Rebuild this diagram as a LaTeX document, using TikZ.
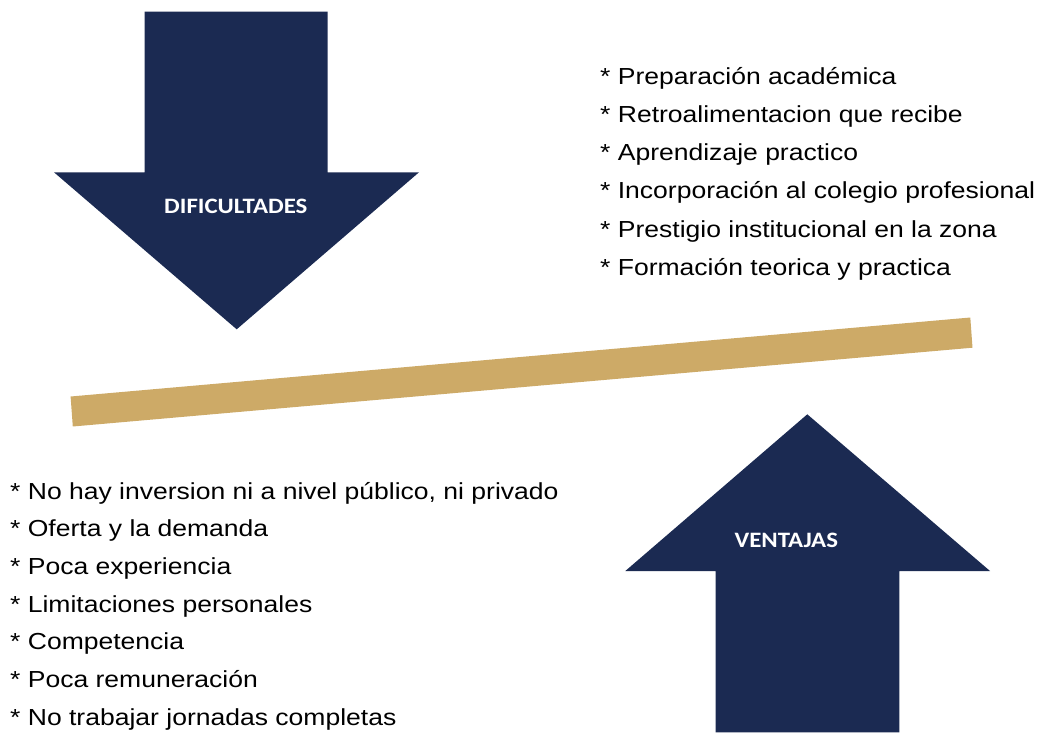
\documentclass[tikz,border=0pt]{standalone}
\usepackage{fontspec}
\setmainfont{Liberation Sans}[FakeStretch=1.143]
\newfontfamily\labelfont{Carlito}[FakeStretch=1.13]
\definecolor{navy}{HTML}{1B2A52}
\definecolor{gold}{HTML}{CDAA67}
\begin{document}
\begin{tikzpicture}[x=1pt,y=-1pt,
  arrowshape/.style={fill=navy,draw=none},
  barshape/.style={fill=gold,draw=none},
  arrowlabel/.style={anchor=base,text=white,font=\labelfont\bfseries\fontsize{22}{26}\selectfont,inner sep=0pt},
  itemtext/.style={anchor=base west,inner sep=0pt,font=\fontsize{23.2}{28}\selectfont,text=black}]
\useasboundingbox (0,0) rectangle (1039,734);
% down arrow
\draw[arrowshape] (144.5,11.7) -- (327.7,11.7) -- (327.7,172.3) -- (419,172.3) -- (236.7,329.3) -- (54,172.3) -- (144.5,172.3) -- cycle;
\node[arrowlabel] (dif) at (235.8,213.3) {DIFICULTADES};
% up arrow
\draw[arrowshape] (807.3,414.3) -- (990,571) -- (899.3,571) -- (899.3,732.3) -- (715.7,732.3) -- (715.7,571) -- (625.3,571) -- cycle;
\node[arrowlabel] (ven) at (786.3,547.5) {VENTAJAS};
% bar
\draw[barshape] (70.6,396.5) -- (970.3,317.5) -- (972.5,347.7) -- (72.8,426.5) -- cycle;
% right list
\node[itemtext] (r1) at (600,84.3) {* Preparación académica};
\node[itemtext] (r2) at (600,122.5) {* Retroalimentacion que recibe};
\node[itemtext] (r3) at (600,160.7) {* Aprendizaje practico};
\node[itemtext] (r4) at (600,198.9) {* Incorporación al colegio profesional};
\node[itemtext] (r5) at (600,237.1) {* Prestigio institucional en la zona};
\node[itemtext] (r6) at (600,275.3) {* Formación teorica y practica};
% left list
\node[itemtext] (l1) at (10,499.3) {* No hay inversion ni a nivel público, ni privado};
\node[itemtext] (l2) at (10,536.9) {* Oferta y la demanda};
\node[itemtext] (l3) at (10,574.5) {* Poca experiencia};
\node[itemtext] (l4) at (10,612.1) {* Limitaciones personales};
\node[itemtext] (l5) at (10,649.7) {* Competencia};
\node[itemtext] (l6) at (10,687.3) {* Poca remuneración};
\node[itemtext] (l7) at (10,725) {* No trabajar jornadas completas};
\end{tikzpicture}
\end{document}
